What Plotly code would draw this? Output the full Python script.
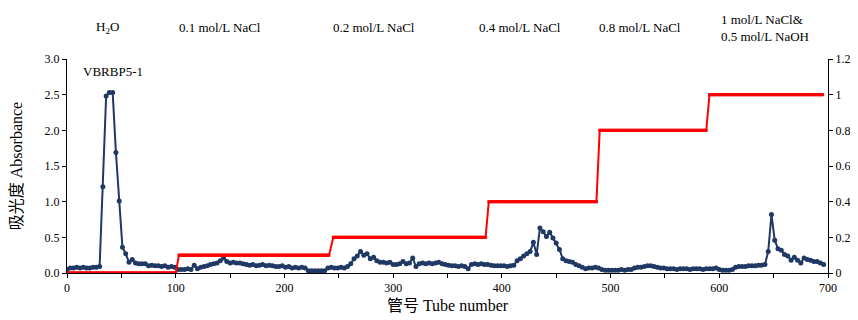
import plotly.graph_objects as go

# Absorbance read every 3 tubes (tube 0, 3, 6, ... 696)
absorbance = [
    0.05, 0.07, 0.07, 0.08, 0.07, 0.08, 0.07, 0.07, 0.08, 0.08,
    0.09, 1.21, 2.48, 2.53, 2.53, 1.69, 1.01, 0.36, 0.27, 0.15,
    0.19, 0.14, 0.13, 0.13, 0.13, 0.10, 0.11, 0.10, 0.10, 0.09,
    0.10, 0.08, 0.09, 0.08, 0.05, 0.05, 0.05, 0.06, 0.05, 0.11,
    0.06, 0.08, 0.09, 0.10, 0.12, 0.13, 0.14, 0.17, 0.21, 0.16,
    0.14, 0.15, 0.14, 0.14, 0.13, 0.12, 0.11, 0.12, 0.10, 0.11,
    0.12, 0.10, 0.11, 0.10, 0.09, 0.09, 0.10, 0.08, 0.09, 0.07,
    0.08, 0.07, 0.08, 0.07, 0.03, 0.03, 0.03, 0.03, 0.03, 0.03,
    0.07, 0.08, 0.07, 0.07, 0.08, 0.07, 0.09, 0.13, 0.20, 0.24,
    0.30, 0.25, 0.27, 0.20, 0.22, 0.17, 0.15, 0.15, 0.14, 0.15,
    0.12, 0.12, 0.13, 0.16, 0.13, 0.14, 0.21, 0.09, 0.13, 0.14,
    0.13, 0.14, 0.13, 0.14, 0.15, 0.13, 0.12, 0.11, 0.10, 0.10,
    0.09, 0.10, 0.09, 0.06, 0.12, 0.13, 0.12, 0.13, 0.12, 0.12,
    0.11, 0.10, 0.10, 0.10, 0.10, 0.09, 0.10, 0.11, 0.17, 0.20,
    0.24, 0.27, 0.30, 0.43, 0.26, 0.63, 0.58, 0.51, 0.57, 0.49,
    0.42, 0.33, 0.20, 0.17, 0.16, 0.15, 0.12, 0.10, 0.08, 0.06,
    0.07, 0.07, 0.08, 0.07, 0.05, 0.04, 0.04, 0.04, 0.04, 0.04,
    0.05, 0.04, 0.05, 0.05, 0.07, 0.08, 0.08, 0.09, 0.10, 0.10,
    0.09, 0.08, 0.07, 0.07, 0.06, 0.06, 0.06, 0.05, 0.06, 0.06,
    0.06, 0.05, 0.06, 0.06, 0.06, 0.05, 0.06, 0.06, 0.06, 0.07,
    0.05, 0.04, 0.04, 0.04, 0.05, 0.08, 0.09, 0.09, 0.09, 0.10,
    0.10, 0.10, 0.11, 0.11, 0.12, 0.30, 0.82, 0.46, 0.34, 0.32,
    0.26, 0.24, 0.18, 0.22, 0.18, 0.14, 0.21, 0.19, 0.18, 0.16,
    0.16, 0.14, 0.12,
]
tube_step = 3
tubes = [i * tube_step for i in range(len(absorbance))]

# NaCl step gradient (right axis, mol/L)
grad_start = [0, 103, 245, 388, 490, 591]
grad_end = [100, 241, 385, 487, 588, 695]
grad_conc = [0, 0.1, 0.2, 0.4, 0.8, 1.0]

red_x, red_y = [], []
for s, e, c in zip(grad_start, grad_end, grad_conc):
    for t in range(s, e + 1):
        red_x.append(t)
        red_y.append(c)

right_ticks = [0, 0.2, 0.4, 0.6, 0.8, 1.0, 1.2]
right_tick_text = ["0", "0.2", "0.4", "0.6", "0.8", "1", "1.2"]

eluent_labels = ["H<sub>2</sub>O", "0.1 mol/L NaCl", "0.2 mol/L NaCl",
                 "0.4 mol/L NaCl", "0.8 mol/L NaCl",
                 "1 mol/L NaCl&<br>0.5 mol/L NaOH"]
eluent_x = [37, 141, 282, 417, 527, 642]

peak_label = "VBRBP5-1"
peak_x = 42
peak_y = 2.82

FONT = "Liberation Serif, Times New Roman, serif"
CJK = "Liberation Serif, Noto Sans CJK SC, serif"

fig = go.Figure()
fig.add_trace(go.Scatter(
    x=red_x, y=red_y, yaxis="y2", mode="lines+markers",
    line=dict(color="#FF0000", width=2),
    marker=dict(color="#FF0000", size=3, symbol="square"),
    showlegend=False, hoverinfo="skip"))
fig.add_trace(go.Scatter(
    x=tubes, y=absorbance, mode="lines+markers",
    line=dict(color="#1F3864", width=2),
    marker=dict(color="#1F3864", size=5),
    showlegend=False))

for lab, xv in zip(eluent_labels, eluent_x):
    fig.add_annotation(x=xv, y=1.145, xref="x", yref="paper", text=lab,
                       showarrow=False, font=dict(family=FONT, size=13, color="black"),
                       align="left", xanchor="center", yanchor="middle")
fig.add_annotation(x=peak_x, y=peak_y, xref="x", yref="y", text=peak_label,
                   showarrow=False, font=dict(family=FONT, size=13, color="black"))

fig.update_layout(
    width=850, height=312,
    margin=dict(l=59, r=30, t=51, b=47),
    paper_bgcolor="white", plot_bgcolor="white",
    font=dict(family=FONT, size=12, color="black"),
    xaxis=dict(range=[0, 700], dtick=100, tick0=0, showline=True, linecolor="black",
               linewidth=1, ticks="outside", ticklen=4, tickcolor="black",
               showgrid=False, zeroline=False,
               minor=dict(dtick=50, ticks="outside", ticklen=4, tickcolor="black"),
               tickfont=dict(family=FONT, size=12),
               title=dict(text="管号 Tube number", font=dict(family=CJK, size=16),
                          standoff=5),
               automargin=False),
    yaxis=dict(range=[0, 3], dtick=0.5, tickformat=".1f", showline=True,
               linecolor="black", linewidth=1, ticks="outside", ticklen=4,
               tickcolor="black", showgrid=False, zeroline=False,
               tickfont=dict(family=FONT, size=12),
               title=dict(text="吸光度 Absorbance", font=dict(family=CJK, size=16),
                          standoff=18),
               automargin=False),
    yaxis2=dict(range=[0, 1.2], tickvals=right_ticks, ticktext=right_tick_text,
                overlaying="y", side="right",
                showline=True, linecolor="black", linewidth=1, ticks="outside",
                ticklen=4, tickcolor="black", showgrid=False, zeroline=False,
                tickfont=dict(family=FONT, size=12), automargin=False),
)

fig.write_html("out.html")
